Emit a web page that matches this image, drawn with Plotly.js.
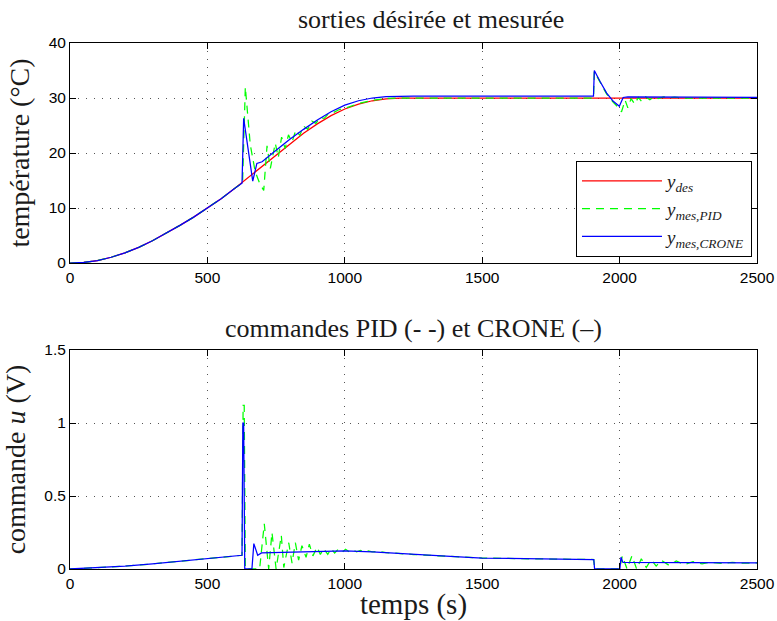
<!DOCTYPE html>
<html>
<head>
<meta charset="utf-8">
<script src="https://cdn.plot.ly/plotly-3.0.1.min.js"></script>
<style>html,body{margin:0;padding:0;background:#fff;}#chart{width:777px;height:621px;}</style>
</head>
<body>
<div id="chart"></div>
<script>
// ---- top panel: desired and measured outputs (°C) ----
const tDes = [0,50,100,150,200,250,300,350,400,450,500,550,600,650,700,750,800,850,900,950,1000,1050,1100,1150,1200,1250,2500];
const yDes = [0,0.1,0.45,1.05,1.85,2.85,4.05,5.4,6.85,8.35,9.95,11.7,13.6,15.6,17.65,19.7,21.7,23.6,25.3,26.8,28.0,28.9,29.5,29.85,30.0,30.0,30.0];

const tPid = [0,50,100,150,200,250,300,350,400,450,500,550,600,628,638,656,674,690,705,717,729,747,758,770,783,795,808,822,836,850,865,880,895,910,925,940,960,980,1000,1050,1100,1150,1200,1905,1908,1929,1953,1977,1995,2007,2020,2030,2042,2055,2068,2080,2095,2110,2125,2140,2160,2180,2200,2230,2500];
const yPid = [0,0.1,0.45,1.05,1.85,2.85,4.05,5.4,6.85,8.35,9.95,11.7,13.6,14.6,32.0,21.5,16.6,14.5,13.2,21.3,17.2,21.8,19.2,22.9,20.8,23.3,22.0,24.2,23.2,24.9,24.3,25.8,25.4,26.5,26.3,27.1,27.4,27.9,28.1,29.0,29.6,29.9,30.0,30.0,34.8,32.8,30.7,29.2,28.3,27.5,29.6,28.2,29.9,28.9,30.1,29.4,30.2,29.7,30.2,29.9,30.2,30.0,30.15,30.0,30.0];

const tCrone = [0,50,100,150,200,250,300,350,400,450,500,550,600,626,632,665,680,699,750,800,850,900,950,1000,1050,1100,1150,1200,1250,1905,1908,1929,1953,1977,1999,2013,2030,2500];
const yCrone = [0,0.1,0.45,1.05,1.85,2.85,4.05,5.4,6.85,8.35,9.95,11.7,13.6,14.5,26.3,14.9,18.1,18.4,20.5,22.5,24.3,26.0,27.5,28.7,29.5,30.0,30.25,30.35,30.35,30.35,35.0,33.0,30.9,29.4,28.5,30.1,30.2,30.1];

// ---- bottom panel: control signals u (V) ----
const tUPid = [0,100,200,300,400,500,600,626,630,634,638,690,707,723,735,750,769,778,796,808,820,832,844,859,871,884,899,911,923,938,950,963,976,990,1003,1016,1030,1043,1057,1070,1085,1100,1120,1150,1250,1400,1500,1700,1906,1909,2000,2010,2027,2045,2062,2079,2097,2115,2133,2152,2180,2206,2236,2267,2300,2330,2370,2410,2450,2500];
const uPid = [0,0.008,0.02,0.035,0.052,0.07,0.088,0.094,1.12,1.12,0,0,0.31,0,0.25,0,0.23,0.01,0.18,0.04,0.18,0.06,0.16,0.08,0.17,0.09,0.15,0.10,0.14,0.10,0.14,0.11,0.135,0.115,0.135,0.118,0.13,0.118,0.127,0.117,0.124,0.117,0.12,0.113,0.099,0.084,0.075,0.069,0.065,0,0,0.09,0,0.09,0,0.07,0.01,0.065,0.02,0.06,0.025,0.055,0.03,0.05,0.035,0.047,0.038,0.045,0.04,0.042];

const tUCrone = [0,100,200,300,400,500,600,626,629,632,636,662,669,683,697,750,800,900,1000,1100,1250,1400,1500,1700,1906,1909,2001,2005,2012,2500];
const uCrone = [0,0.008,0.02,0.035,0.052,0.07,0.088,0.094,1.0,1.0,0,0,0.174,0.094,0.11,0.113,0.116,0.121,0.125,0.117,0.099,0.084,0.075,0.069,0.065,0,0,0.08,0.045,0.042];

const xTicks = [0,500,1000,1500,2000,2500];
const yTicksTop = [0,10,20,30,40];
const yTicksBot = [0,0.5,1,1.5];
const yTickTextBot = ['0','0.5','1','1.5'];

const RED = '#ff0000', GREEN = '#00ff00', BLUE = '#0000ff';
const SERIF = 'Liberation Serif, Times New Roman, serif';
const SANS = 'Liberation Sans, Arial, Helvetica, sans-serif';
const TXT = '#1a1a1a';
const LW = 1.25;

const traces = [
  {x:tDes, y:yDes, xaxis:'x', yaxis:'y', mode:'lines', name:'<i>y<sub>des</sub></i>', line:{color:RED, width:LW}},
  {x:tPid, y:yPid, xaxis:'x', yaxis:'y', mode:'lines', name:'<i>y<sub>mes,PID</sub></i>', line:{color:GREEN, width:LW, dash:'8px,6px'}},
  {x:tCrone, y:yCrone, xaxis:'x', yaxis:'y', mode:'lines', name:'<i>y<sub>mes,CRONE</sub></i>', line:{color:BLUE, width:LW}},
  {x:tUPid, y:uPid, xaxis:'x2', yaxis:'y2', mode:'lines', showlegend:false, line:{color:GREEN, width:LW, dash:'8px,6px'}},
  {x:tUCrone, y:uCrone, xaxis:'x2', yaxis:'y2', mode:'lines', showlegend:false, line:{color:BLUE, width:LW}}
];

const axCommon = {
  showline:true, linecolor:'#000', linewidth:1, mirror:'ticks',
  ticks:'inside', ticklen:6, tickcolor:'#000', tickwidth:1,
  showgrid:true, gridcolor:'#555', gridwidth:1, griddash:'1px,7px',
  zeroline:false, tickfont:{family:SANS, size:15.5, color:'#000'}
};

const layout = {
  width:777, height:621,
  paper_bgcolor:'#fff', plot_bgcolor:'#fff',
  margin:{l:70, r:20, t:43, b:52},
  showlegend:true,
  legend:{x:0.9927, y:0.593, xanchor:'right', yanchor:'bottom',
          bgcolor:'#fff', bordercolor:'#000', borderwidth:1, itemwidth:80,
          font:{family:SERIF, size:19, color:TXT}},
  xaxis:Object.assign({}, axCommon, {domain:[0,1], range:[0,2500], tickvals:xTicks, anchor:'y'}),
  yaxis:Object.assign({}, axCommon, {domain:[0.5817,1], range:[0,40], tickvals:yTicksTop, anchor:'x',
          title:{text:'température (°C)', font:{family:SERIF, size:28, color:TXT}, standoff:10}}),
  xaxis2:Object.assign({}, axCommon, {domain:[0,1], range:[0,2500], tickvals:xTicks, anchor:'y2',
          title:{text:'temps (s)', font:{family:SERIF, size:29, color:TXT}, standoff:2}}),
  yaxis2:Object.assign({}, axCommon, {domain:[0,0.4163], range:[0,1.5], tickvals:yTicksBot, ticktext:yTickTextBot, anchor:'x2',
          title:{text:'commande <i>u</i> (V)', font:{family:SERIF, size:28, color:TXT}, standoff:10}}),
  annotations:[
    {text:'sorties désirée et mesurée', xref:'paper', yref:'paper', x:0.525, y:1.0, yshift:7, xanchor:'center', yanchor:'bottom', showarrow:false, font:{family:SERIF, size:26, color:TXT}},
    {text:'commandes PID (- -) et CRONE (–)', xref:'paper', yref:'paper', x:0.5, y:0.4163, yshift:5, xanchor:'center', yanchor:'bottom', showarrow:false, font:{family:SERIF, size:26, color:TXT}}
  ]
};

Plotly.newPlot('chart', traces, layout, {displayModeBar:false, staticPlot:true});
</script>
</body>
</html>
